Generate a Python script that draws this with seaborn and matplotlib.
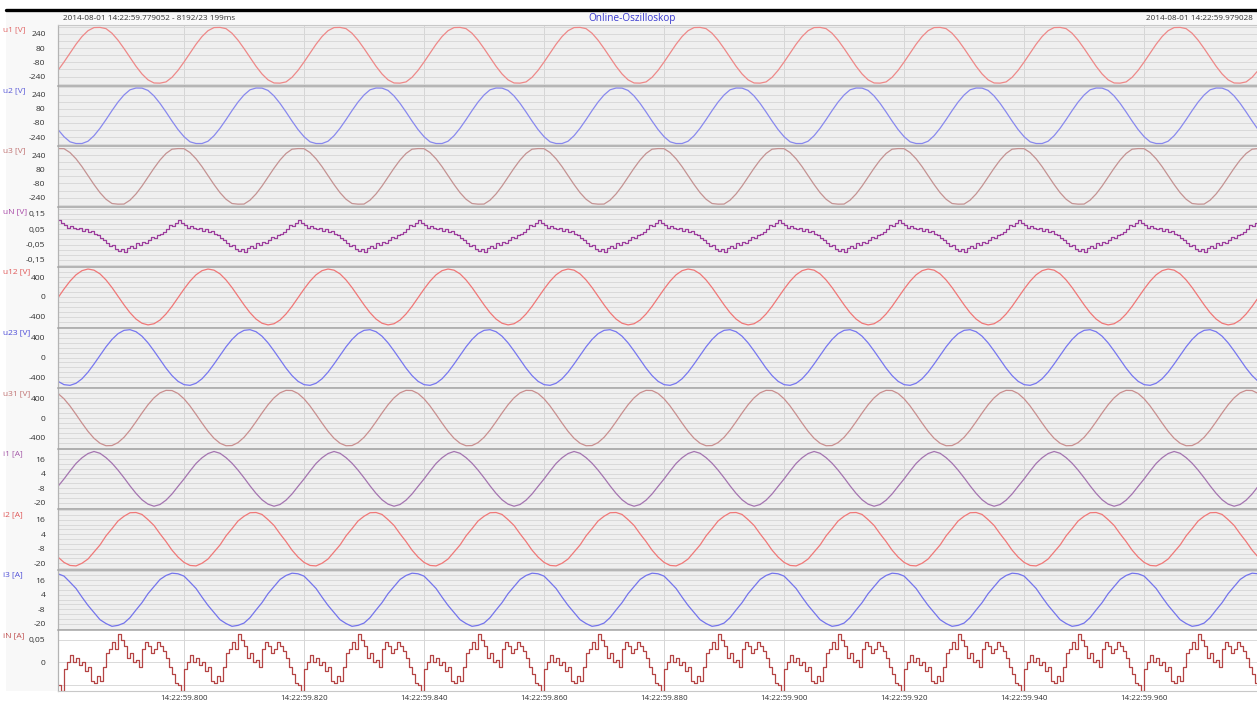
import numpy as np
import matplotlib
matplotlib.use("Agg")
import matplotlib.pyplot as plt
import seaborn as sns
from matplotlib.patches import Rectangle
from matplotlib.lines import Line2D

# one 20 ms cycle per channel (1 ms apart)
u1_cycle = [-170, -76, 25, 124, 211, 277, 312, 314, 300, 248,
            170, 76, -25, -124, -211, -277, -312, -314, -300, -248]
u2_cycle = [-155, -235, -293, -312, -312, -286, -224, -140, -43, 59,
            155, 235, 293, 313, 312, 286, 224, 140, 43, -59]
u3_cycle = [313, 312, 268, 198, 109, 9, -92, -184, -258, -306,
            -313, -312, -268, -198, -109, -9, 92, 184, 258, 306]
u12_cycle = [-16, 159, 318, 446, 530, 563, 540, 465, 343, 189,
             16, -159, -318, -446, -530, -563, -540, -465, -343, -189]
u23_cycle = [-480, -547, -561, -520, -429, -295, -132, 43, 215, 365,
             480, 547, 561, 520, 429, 295, 132, -43, -215, -365]
u31_cycle = [495, 388, 243, 74, -102, -268, -408, -508, -558, -554,
             -495, -388, -243, -74, 102, 268, 408, 508, 558, 554]
i1_cycle = [-6.5, -0.4, 6.2, 12.4, 17.1, 20.6, 22.3, 20.8, 17.2, 12.6,
            6.9, 0.6, -6.1, -12.3, -17.6, -21.2, -22.9, -21.5, -17.9, -12.8]
i2_cycle = [-14.9, -19.3, -21.8, -22.2, -20.0, -16.5, -10.7, -4.9, 2.6, 8.6,
            14.9, 18.8, 21.7, 21.9, 20.3, 16.0, 11.2, 4.3, -2.1, -9.2]
i3_cycle = [21.3, 19.4, 14.4, 9.2, 2.0, -4.8, -10.7, -16.6, -19.8, -22.1,
            -21.3, -19.4, -14.9, -8.6, -2.5, 4.9, 10.8, 16.6, 19.9, 21.8]

# stepped channels, 0.5 ms apart
uN_cycle = [0.11, 0.09, 0.08, 0.06, 0.07, 0.06, 0.05, 0.06, 0.04, 0.05,
            0.03, 0.04, 0.02, 0.01, -0.01, -0.02, -0.04, -0.06, -0.05, -0.08,
            -0.09, -0.08, -0.10, -0.07, -0.06, -0.07, -0.04, -0.05, -0.03, -0.04,
            -0.02, 0.00, -0.01, 0.01, 0.02, 0.03, 0.05, 0.08, 0.07, 0.09]
iN_cycle = [-0.05, -0.062, -0.015, 0.0, 0.015, 0.0, 0.01, -0.005, 0.0, -0.02,
            -0.01, -0.04, -0.045, -0.03, -0.04, -0.01, 0.02, 0.03, 0.045, 0.03,
            0.062, 0.05, 0.035, 0.01, 0.02, 0.0, 0.005, -0.01, 0.03, 0.045,
            0.035, 0.02, 0.03, 0.045, 0.035, 0.025, 0.01, -0.01, -0.025, -0.045]

n_cycles = 10
end_ms = 199.976
tick_ms = [20.948 + 20 * k for k in range(9)]
tick_labels = ["14:22:59.%03d" % (800 + 20 * k) for k in range(9)]

names = ["u1 [V]", "u2 [V]", "u3 [V]", "uN [V]", "u12 [V]", "u23 [V]",
         "u31 [V]", "i1 [A]", "i2 [A]", "i3 [A]", "iN [A]"]
cycles = [u1_cycle, u2_cycle, u3_cycle, uN_cycle, u12_cycle, u23_cycle,
          u31_cycle, i1_cycle, i2_cycle, i3_cycle, iN_cycle]
yticks = [[240, 80, -80, -240]] * 3 + [[0.15, 0.05, -0.05, -0.15]] + \
         [[400, 0, -400]] * 3 + [[16, 4, -8, -20]] * 3 + [[0.05, 0]]
ytick_labels = [["240", "80", "-80", "-240"]] * 3 + [["0,15", "0,05", "-0,05", "-0,15"]] + \
               [["400", "0", "-400"]] * 3 + [["16", "4", "-8", "-20"]] * 3 + [["0,05", "0"]]

# styling
ylims = [(-341, 341)] * 3 + [(-0.197, 0.197)] + [(-620, 600)] * 3 + \
        [(-25.5, 24.5)] * 3 + [(-0.063, 0.07)]
grid_steps = [80] * 3 + [0.1 / 3] + [100] * 3 + [4] * 3 + [0.05]
line_colors = ["#ee8888", "#8888ee", "#c49292", "#9c3c9c", "#ef7777", "#7777ef",
               "#c98f8f", "#a474b0", "#ef7878", "#7474ec", "#b54444"]
label_colors = ["#e06464", "#5a5ad8", "#c07272", "#a848a8", "#e05858", "#4c4cd8",
                "#c07272", "#a458a8", "#e05858", "#5050d8", "#c05050"]
stepped = [False, False, False, True, False, False, False, False, False, False, True]

sns.set_style("white")
plt.rcParams["font.family"] = ["Open Sans", "DejaVu Sans"]

W, H = 1257, 702
fig = plt.figure(figsize=(W / 100, H / 100), dpi=100)
fig.patch.set_facecolor("white")


def fx(px):
    return px / W


def fy(py):
    return 1 - py / H


# light frame behind header and panels
fig.add_artist(Rectangle((fx(6), fy(691)), 1 - fx(6), (691 - 11) / H,
                         transform=fig.transFigure, facecolor="#f8f8f8",
                         edgecolor="none", zorder=-1))
fig.add_artist(Line2D([fx(6), 1], [fy(10), fy(10)], color="black", lw=2.4))
fig.add_artist(Line2D([fx(58), 1], [fy(25), fy(25)], color="#c8c8c8", lw=0.8))

fig.text(fx(63), fy(19), "2014-08-01 14:22:59.779052 - 8192/23 199ms",
         fontsize=5.9, color="#333333", va="center", ha="left")
fig.text(fx(632), fy(19), "Online-Oszilloskop", fontsize=7.2, color="#3a3ad0",
         va="center", ha="center")
fig.text(fx(1253), fy(19), "2014-08-01 14:22:59.979028", fontsize=5.9,
         color="#333333", va="center", ha="right")

top, bottom = 25, 691
ph = (bottom - top) / len(names)

for i, name in enumerate(names):
    y0 = top + i * ph
    ax = fig.add_axes([fx(58), fy(y0 + ph), fx(1258) - fx(58), ph / H])
    step = 0.5 if stepped[i] else 1.0
    vals = np.array(list(cycles[i]) * n_cycles + [cycles[i][0]])
    t = np.arange(len(vals)) * step
    sns.lineplot(x=t, y=vals, ax=ax, color=line_colors[i], lw=0.9,
                 estimator=None, sort=False,
                 drawstyle="steps-post" if stepped[i] else "default")
    ax.set_xlim(0, end_ms)
    ax.set_ylim(*ylims[i])
    ax.set_facecolor("white" if name.startswith("iN") else "#efefef")

    lo, hi = ylims[i]
    g = grid_steps[i]
    base = yticks[i][0]
    gvals = base + g * np.arange(-40, 41)
    gvals = gvals[(gvals > lo) & (gvals < hi)]
    ax.set_yticks(gvals, minor=True)
    ax.set_yticks(yticks[i])
    ax.set_yticklabels(ytick_labels[i])
    ax.set_xticks(tick_ms)
    ax.grid(True, which="both", axis="y", color="#d9d9d9", lw=0.7)
    ax.grid(True, which="major", axis="x", color="#d6d6d6", lw=0.7)
    ax.tick_params(axis="y", which="both", length=0, pad=9, labelsize=6.1,
                   labelcolor="#333333")
    ax.tick_params(axis="x", length=0, pad=3, labelsize=5.8, labelcolor="#333333")
    if i < len(names) - 1:
        ax.set_xticklabels([])
    else:
        ax.set_xticklabels(tick_labels)
    ax.set_xlabel("")
    ax.set_ylabel("")
    for side in ["right", "bottom"]:
        ax.spines[side].set_visible(False)
    ax.spines["top"].set_color("#a4a4a4")
    ax.spines["top"].set_linewidth(1.1 if i > 0 else 0.6)
    ax.spines["left"].set_color("#b4b4b4")
    ax.spines["left"].set_linewidth(0.9)
    if i == len(names) - 1:
        ax.spines["bottom"].set_visible(True)
        ax.spines["bottom"].set_color("#c8c8c8")
        ax.spines["bottom"].set_linewidth(0.8)

    fig.text(fx(3), fy(y0 + 5), name, fontsize=6.0, color=label_colors[i],
             va="center", ha="left")

fig.savefig("out.png", dpi=100)
